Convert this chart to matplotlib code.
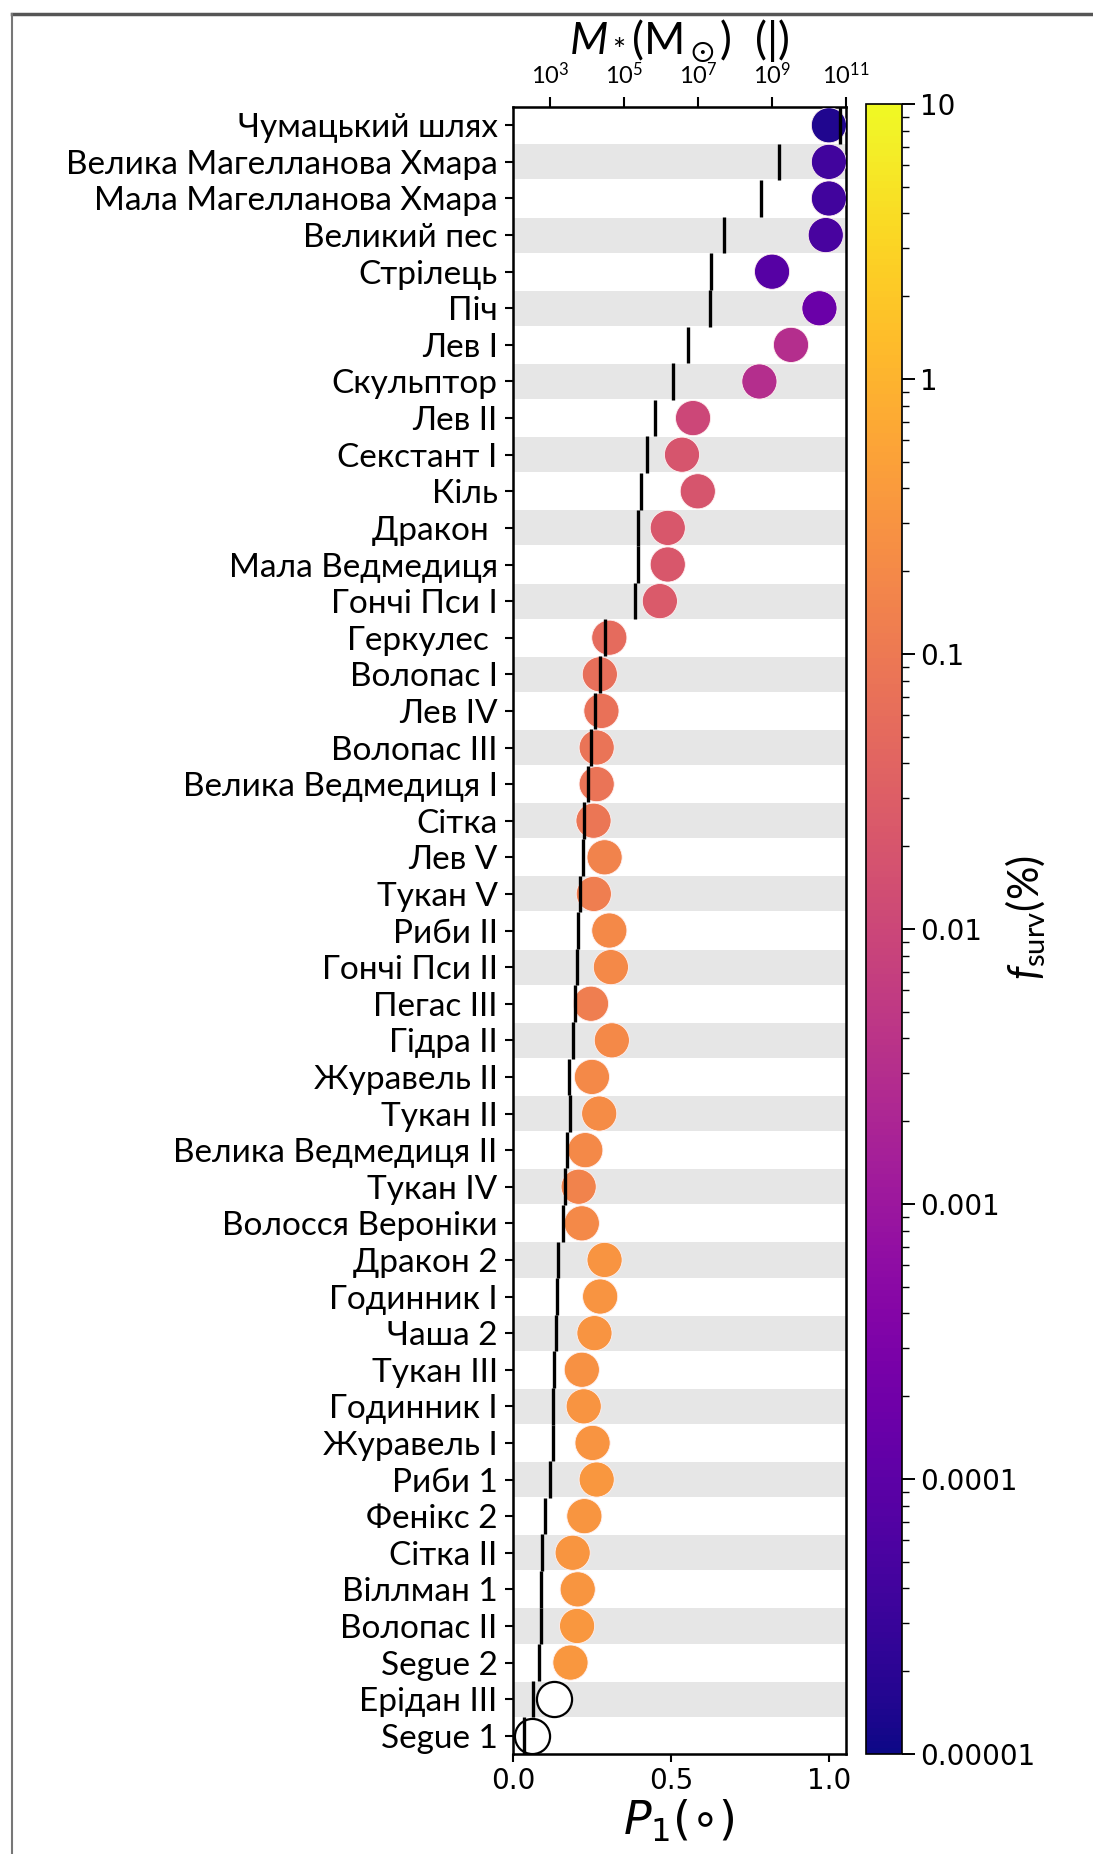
import numpy as np
import matplotlib.pyplot as plt
from matplotlib.colors import LogNorm
from matplotlib.ticker import FixedLocator, NullLocator

plt.rcParams['mathtext.fontset'] = 'custom'
plt.rcParams['mathtext.rm'] = 'Lato'
plt.rcParams['mathtext.it'] = 'Lato:italic'
plt.rcParams['mathtext.bf'] = 'Lato:bold'
plt.rcParams['mathtext.fallback'] = 'stixsans'

names = [
    'Чумацький шлях', 'Велика Магелланова Хмара', 'Мала Магелланова Хмара',
    'Великий пес', 'Стрілець', 'Піч', 'Лев I', 'Скульптор', 'Лев II',
    'Секстант I', 'Кіль', 'Дракон ', 'Мала Ведмедиця', 'Гончі Пси I',
    'Геркулес ', 'Волопас I', 'Лев IV', 'Волопас III', 'Велика Ведмедиця I',
    'Сітка', 'Лев V', 'Тукан V', 'Риби II', 'Гончі Пси II', 'Пегас III',
    'Гідра II', 'Журавель II', 'Тукан II', 'Велика Ведмедиця II', 'Тукан IV',
    'Волосся Вероніки', 'Дракон 2', 'Годинник I', 'Чаша 2', 'Тукан III',
    'Годинник I', 'Журавель I', 'Риби 1', 'Фенікс 2', 'Сітка II',
    'Віллман 1', 'Волопас II', 'Segue 2', 'Ерідан III', 'Segue 1',
]

# P1 (degrees), bottom axis
p1 = [
    1.00, 1.00, 1.00, 0.99, 0.82, 0.97, 0.88, 0.78, 0.57,
    0.535, 0.585, 0.49, 0.49, 0.465,
    0.305, 0.275, 0.28, 0.265, 0.265,
    0.255, 0.29, 0.256, 0.305, 0.31, 0.247,
    0.313, 0.25, 0.273, 0.229, 0.208,
    0.218, 0.29, 0.276, 0.258, 0.218,
    0.224, 0.252, 0.265, 0.226, 0.189,
    0.205, 0.203, 0.182, 0.13, 0.06,
]

# log10 of stellar mass (Msun), top axis
log_mstar = [
    10.85, 9.2, 8.69, 7.71, 7.35, 7.32, 6.73, 6.33, 5.83,
    5.61, 5.47, 5.39, 5.39, 5.29,
    4.49, 4.36, 4.22, 4.10, 4.04,
    3.93, 3.88, 3.81, 3.77, 3.72, 3.67,
    3.63, 3.52, 3.54, 3.45, 3.40,
    3.36, 3.22, 3.19, 3.16, 3.10,
    3.08, 3.07, 2.99, 2.86, 2.79,
    2.77, 2.75, 2.70, 2.54, 2.31,
]

# surviving fraction (%), nan = no estimate (open circle)
f_surv = [
    1.5e-5, 4e-5, 4e-5, 5e-5, 8e-5, 1.6e-4, 3e-3, 3e-3, 1e-2,
    2e-2, 2e-2, 2.2e-2, 2.2e-2, 2.4e-2,
    5.5e-2, 6.5e-2, 7e-2, 8e-2, 8e-2,
    9e-2, 0.15, 0.12, 0.2, 0.2, 0.12,
    0.2, 0.2, 0.22, 0.2, 0.15,
    0.2, 0.3, 0.3, 0.3, 0.28,
    0.3, 0.3, 0.35, 0.33, 0.33,
    0.33, 0.35, 0.35, np.nan, np.nan,
]

cbar_ticks = [1e-5, 1e-4, 1e-3, 1e-2, 1e-1, 1, 10]
cbar_labels = ['0.00001', '0.0001', '0.001', '0.01', '0.1', '1', '10']
mass_ticks = [1e3, 1e5, 1e7, 1e9, 1e11]

y = np.arange(len(names))
p1 = np.array(p1)
mstar = 10 ** np.array(log_mstar)
f_surv = np.array(f_surv)
has_f = ~np.isnan(f_surv)

fig = plt.figure(figsize=(10.93, 18.54), dpi=100)
ax = fig.add_axes([0.4693, 0.0539, 0.3047, 0.8884])
cax = fig.add_axes([0.7925, 0.0539, 0.0330, 0.8900])

for i in y:
    if i % 2 == 1:
        ax.axhspan(i - 0.48, i + 0.48, color='#e6e6e6', lw=0, zorder=0)

norm = LogNorm(vmin=1e-5, vmax=10)
sc = ax.scatter(p1[has_f], y[has_f], c=f_surv[has_f], cmap='plasma', norm=norm,
                s=640, edgecolors='#fff0f0', linewidths=0.6, zorder=3)
ax.scatter(p1[~has_f], y[~has_f], facecolors='white', edgecolors='black',
           s=640, linewidths=1.6, zorder=3)

ax.set_xlim(0, 1.054)
ax.set_ylim(len(names) - 0.5, -0.5)
ax.set_yticks(y)
ax.set_yticklabels(names, fontfamily='Lato', fontsize=24)
ax.set_xticks([0.0, 0.5, 1.0])
ax.tick_params(axis='x', labelsize=20, length=6, width=1.5)
ax.tick_params(axis='y', length=6, width=1.5, pad=5)
ax.set_xlabel(r'$P_1(\circ)$', fontsize=33, math_fontfamily='dejavusans', labelpad=2)
for s in ax.spines.values():
    s.set_linewidth(1.8)

# stellar mass on top axis
ax2 = ax.twiny()
ax2.set_xscale('log')
ax2.set_xlim(1e2, 1e11)
ax2.vlines(mstar, y - 0.5, y + 0.5, color='black', lw=2.4, zorder=4)
ax2.xaxis.set_major_locator(FixedLocator(mass_ticks))
ax2.xaxis.set_minor_locator(NullLocator())
ax2.set_xticklabels([r'$10^{%d}$' % int(np.log10(t)) for t in mass_ticks])
ax2.tick_params(axis='x', labelsize=17, length=7, width=1.5, pad=6)
ax2.set_xlabel(r'$M_*(\mathrm{M}_\odot)$  (|)', fontsize=32, fontfamily='Lato', labelpad=6)
ax2.set_ylim(ax.get_ylim())

cb = fig.colorbar(sc, cax=cax)
cb.set_ticks(cbar_ticks)
cb.set_ticklabels(cbar_labels)
cb.ax.tick_params(which='major', labelsize=20, length=9, width=1.4)
cb.ax.tick_params(which='minor', length=5, width=1.0)
cb.outline.set_linewidth(1.2)
cax.text(4.45, 0.507, r'$f_{\mathrm{surv}}(\%)$', transform=cax.transAxes,
         rotation=90, ha='center', va='center', fontsize=30)

# page edge from the scan
fig.add_artist(plt.Line2D([0.011, 1.0], [0.9925, 0.9925], transform=fig.transFigure,
                          color='#555555', lw=2.5))
fig.add_artist(plt.Line2D([0.011, 0.011], [0.0, 0.9925], transform=fig.transFigure,
                          color='#777777', lw=1.5))

fig.savefig('out.png', dpi=100)
